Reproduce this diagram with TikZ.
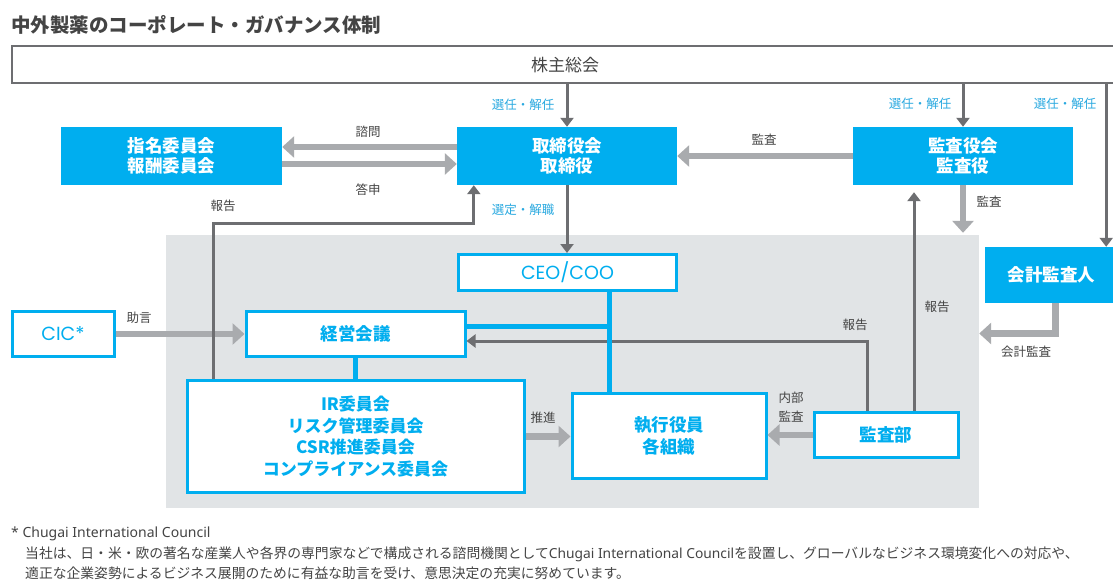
\documentclass[tikz,border=0pt]{standalone}
\usepackage{fontspec}
\setmainfont{Noto Sans CJK JP}
\newfontfamily\latinfont{Noto Sans}
\newfontfamily\geofont{Poppins}
\usetikzlibrary{positioning,arrows.meta}
\definecolor{govblue}{HTML}{00AEEF}
\definecolor{darkline}{HTML}{6D6E71}
\definecolor{lightline}{HTML}{A9ABAE}
\definecolor{panelgray}{HTML}{E1E4E6}
\definecolor{textgray}{HTML}{444444}
\definecolor{labelblue}{HTML}{29A9E0}

\tikzset{
  bluebox/.style={fill=govblue, text=white, inner sep=0pt, align=center,
    font=\fontsize{17.5}{20.5}\selectfont\bfseries},
  whitebox/.style={fill=white, draw=govblue, line width=3pt, text=govblue,
    inner sep=0pt, align=center, font=\fontsize{17.5}{21.7}\selectfont\bfseries},
  geobox/.style={whitebox, font=\fontsize{19}{22}\geofont},
  darkarrow/.style={draw=darkline, line width=3pt, -{Triangle[width=13pt,length=9pt]}},
  grayarrow/.style={draw=lightline, line width=6.5pt, -{Triangle[width=21pt,length=12pt]}},
  blueline/.style={draw=govblue, line width=5pt},
  lbl/.style={text=textgray, inner sep=0pt, font=\fontsize{12.5}{15}\selectfont},
  bluelbl/.style={text=labelblue, inner sep=0pt, font=\fontsize{12.5}{15}\selectfont},
  notetext/.style={text=textgray, inner sep=0pt, anchor=west, font=\fontsize{13.8}{16}\selectfont}
}

\begin{document}
\begin{tikzpicture}[x=1pt, y=-1pt]
    \useasboundingbox (0,0) rectangle (1113,583);
    \fill[white] (0,0) rectangle (1113,583);

    % executive area
    \node[fill=panelgray, inner sep=0pt, minimum width=813pt, minimum height=273pt] (area) at (572.5,371.5) {};

    \node[anchor=west, text=textgray, inner sep=0pt, font=\fontsize{19.5}{22}\selectfont\bfseries]
          (title) at (11,25) {中外製薬のコーポレート・ガバナンス体制};

    \node[fill=white, draw=darkline, line width=2pt, minimum width=1106pt, minimum height=37pt,
          text=textgray, font=\fontsize{17}{20}\selectfont] (sh) at (565,65) {株主総会};

    % boxes
    \node[bluebox, minimum width=221pt, minimum height=58pt] (nom) at (171.5,156) {指名委員会\\報酬委員会};
    \node[bluebox, minimum width=220pt, minimum height=58pt] (bod) at (567,156) {取締役会\\取締役};
    \node[bluebox, minimum width=220pt, minimum height=58pt] (kan) at (963,156) {監査役会\\監査役};
    \node[bluebox, minimum width=133pt, minimum height=56pt] (acc) at (1051.5,275) {会計監査人};
    \node[geobox, minimum width=218pt, minimum height=36pt] (ceo) at (567.5,272.5) {CEO/COO};
    \node[geobox, minimum width=102pt, minimum height=45pt] (cic) at (63,334) {CIC*};
    \node[whitebox, minimum width=219pt, minimum height=45pt] (mtg) at (355.5,334) {経営会議};
    \node[whitebox, minimum width=337pt, minimum height=112pt, font=\fontsize{17}{21.7}\selectfont\bfseries]
          (cmt) at (355.5,436.5) {IR委員会\\リスク管理委員会\\CSR推進委員会\\コンプライアンス委員会};
    \node[whitebox, minimum width=194pt, minimum height=85pt] (exe) at (669,436) {執行役員\\各組織};
    \node[whitebox, minimum width=144pt, minimum height=45pt] (aud) at (886,435) {監査部};

    % light arrows
    \draw[grayarrow] ([yshift=9pt]bod.west) -- ([yshift=9pt]bod.west -| nom.east);
    \draw[grayarrow] ([yshift=-8pt]nom.east) -- ([yshift=-8pt]nom.east -| bod.west);
    \draw[grayarrow] (kan.west) -- (kan.west -| bod.east);
    \draw[grayarrow] (kan.south) -- ([yshift=2pt]kan.south |- area.north);
    \draw[grayarrow] ([xshift=4pt]acc.south) |- ([yshift=38pt]area.east);
    \draw[grayarrow] (cic.east) -- (mtg.west);
    \draw[grayarrow] (cmt.east) -- (cmt.east -| exe.west);
    \draw[grayarrow] (aud.west) -- (aud.west -| exe.east);

    % dark arrows
    \draw[darkarrow] (bod.north |- sh.south) -- (bod.north);
    \draw[darkarrow] (kan.north |- sh.south) -- (kan.north);
    \draw[darkarrow] ([xshift=-12pt]acc.north east |- sh.south) -- ([xshift=-12pt]acc.north east);
    \draw[darkarrow] (bod.south) -- (bod.south |- ceo.north);
    \draw[darkarrow] ([xshift=28pt]cmt.north west) -- ++(0,-156) -| ([xshift=17pt]bod.south west);
    \draw[darkarrow] ([xshift=-19pt]aud.north) |- ([yshift=-7pt]mtg.east);
    \draw[darkarrow, shorten >=7pt] ([xshift=28pt]aud.north) -- ([xshift=28pt]aud.north |- kan.south);

    % blue links
    \coordinate (spine) at ([xshift=41.5pt]ceo.south);
    \draw[blueline] (spine) -- (spine |- exe.north);
    \draw[blueline] ([yshift=8pt]mtg.east) -- ([yshift=8pt]mtg.east -| spine);
    \draw[blueline] (mtg.south) -- (cmt.north);

    % labels
    \draw (523,105) node[bluelbl] (l1) {選任・解任}
          (920,104) node[bluelbl] (l2) {選任・解任}
          (1065,104) node[bluelbl] (l3) {選任・解任}
          (523,210) node[bluelbl] (l4) {選定・解職};
    \draw (368,132) node[lbl] (l5) {諮問}
          (368,190) node[lbl] (l6) {答申}
          (764,140) node[lbl] (l7) {監査}
          (989,202) node[lbl] (l8) {監査}
          (223,206) node[lbl] (l9) {報告}
          (139,318) node[lbl] (l10) {助言}
          (543,418) node[lbl] (l11) {推進}
          (855,325) node[lbl] (l12) {報告}
          (937,307) node[lbl] (l13) {報告}
          (791,407) node[lbl, align=center, font=\fontsize{12.5}{19}\selectfont] (l14) {内部\\監査}
          (1026,352) node[lbl] (l15) {会計監査};

    % note
    \node[notetext, font=\fontsize{14}{16}\latinfont] (n1) at (11,534) {* Chugai International Council};
    \node[notetext] (n2) at (25,554) {当社は、日・米・欧の著名な産業人や各界の専門家などで構成される諮問機関として{\latinfont Chugai International Council}を設置し、グローバルなビジネス環境変化への対応や、};
    \node[notetext] (n3) at (25,573) {適正な企業姿勢によるビジネス展開のために有益な助言を受け、意思決定の充実に努めています。};
\end{tikzpicture}
\end{document}
